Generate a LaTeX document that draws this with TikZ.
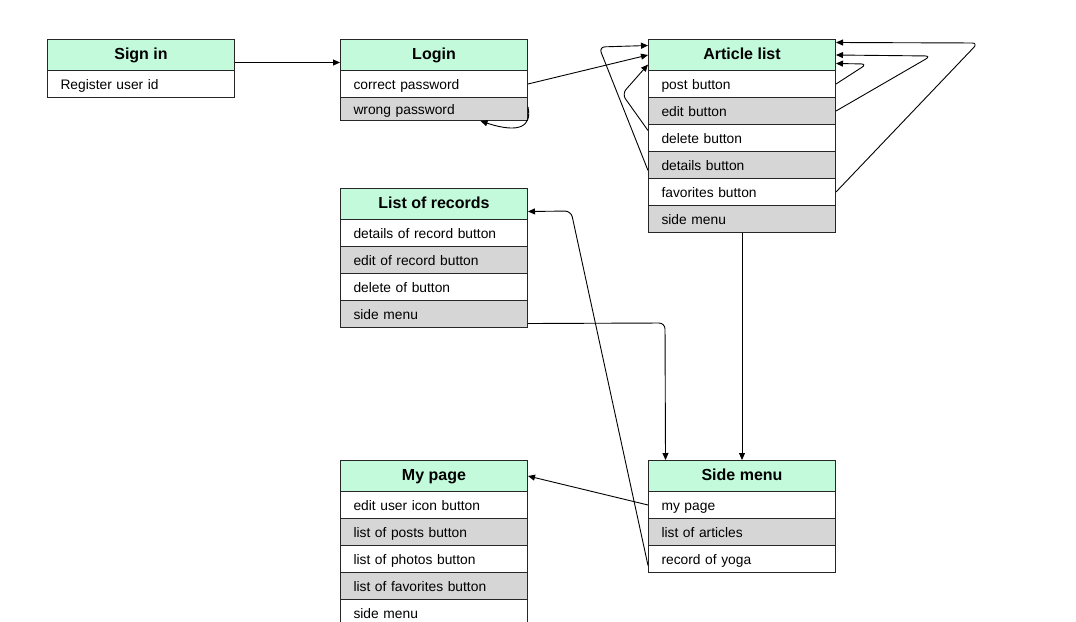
\documentclass[tikz,border=0pt]{standalone}
\usepackage{fontspec}
\setmainfont{Liberation Sans}
\usetikzlibrary{arrows.meta}
\definecolor{mint}{RGB}{194,250,219}
\definecolor{graycell}{RGB}{214,214,214}
\begin{document}
\begin{tikzpicture}[x=1pt,y=-1pt,
  boxtitle/.style={draw=black!85, line width=1pt, fill=mint, minimum width=187pt, minimum height=31pt,
    inner sep=0pt, text height=12pt, text depth=3pt, anchor=north west, font=\bfseries\fontsize{16}{18}\selectfont},
  rowcell/.style={draw=black!85, line width=1pt, fill=white, text width=161pt, inner xsep=13pt, inner ysep=0pt,
    text height=12pt, text depth=1pt,
    minimum height=27pt, align=left, anchor=north west, font=\fontsize{13.8}{15}\selectfont},
  grayrow/.style={rowcell, fill=graycell},
  arr/.style={draw=black, line width=0.9pt, rounded corners=6pt, -{Triangle[length=7pt,width=6pt]}}]
\clip (0,0) rectangle (1076,621);
\fill[white] (0,0) rectangle (1076,621);

% Sign in
\node[rowcell] (signR1) at (47,70) {Register user id};
\node[boxtitle] (signT) at (47,39) {Sign in};

% Login
\node[rowcell] (loginR1) at (340,70) {correct password};
\node[grayrow, minimum height=23pt] (loginR2) at (340,97) {wrong password};
\node[boxtitle] (loginT) at (340,39) {Login};

% Article list
\node[rowcell] (artR1) at (648,70) {post button};
\node[grayrow] (artR2) at (648,97) {edit button};
\node[rowcell] (artR3) at (648,124) {delete button};
\node[grayrow] (artR4) at (648,151) {details button};
\node[rowcell] (artR5) at (648,178) {favorites button};
\node[grayrow] (artR6) at (648,205) {side menu};
\node[boxtitle] (artT) at (648,39) {Article list};

% List of records
\node[rowcell] (recR1) at (340,219) {details of record button};
\node[grayrow] (recR2) at (340,246) {edit of record button};
\node[rowcell] (recR3) at (340,273) {delete of button};
\node[grayrow] (recR4) at (340,300) {side menu};
\node[boxtitle] (recT) at (340,188) {List of records};

% My page
\node[rowcell] (myR1) at (340,491) {edit user icon button};
\node[grayrow] (myR2) at (340,518) {list of posts button};
\node[rowcell] (myR3) at (340,545) {list of photos button};
\node[grayrow] (myR4) at (340,572) {list of favorites button};
\node[rowcell] (myR5) at (340,599) {side menu};
\node[boxtitle] (myT) at (340,460) {My page};

% Side menu
\node[rowcell] (sideR1) at (648,491) {my page};
\node[grayrow] (sideR2) at (648,518) {list of articles};
\node[rowcell] (sideR3) at (648,545) {record of yoga};
\node[boxtitle] (sideT) at (648,460) {Side menu};

% connectors
\draw[arr] ([yshift=-7.5pt]signT.east) -- ([yshift=-7.5pt]loginT.west);
\draw[arr] (loginR1.east) -- (artT.west);
\draw[arr, rounded corners=0pt] ([yshift=2pt]loginR2.east) .. controls (532,126) and (520,134) .. ([xshift=46.5pt]loginR2.south);

\draw[arr] ([yshift=7.5pt]artR3.west) -- (622,94) -- ([yshift=-9.5pt]artT.west);
\draw[arr] ([yshift=-5.5pt]artR4.west) -- (599,47) -- ([yshift=9.5pt]artT.west);

\draw[arr] (artR1.east) -- (867,64) -- ([yshift=-8.5pt]artT.east);
\draw[arr] (artR2.east) -- (931,56) -- (artT.east);
\draw[arr] (artR5.east) -- (978,43) -- ([yshift=12.5pt]artT.east);

\draw[arr] (artR6.south) -- (sideT.north);
\draw[arr] ([yshift=-9.5pt]recR4.east) -- (665,323) -- ([xshift=-76.5pt]sideT.north);
\draw[arr] ([yshift=-6.5pt]sideR3.west) -- (571,211) -- ([yshift=-7.5pt]recT.east);
\draw[arr] (sideR1.west) -- (myT.east);
\end{tikzpicture}
\end{document}
